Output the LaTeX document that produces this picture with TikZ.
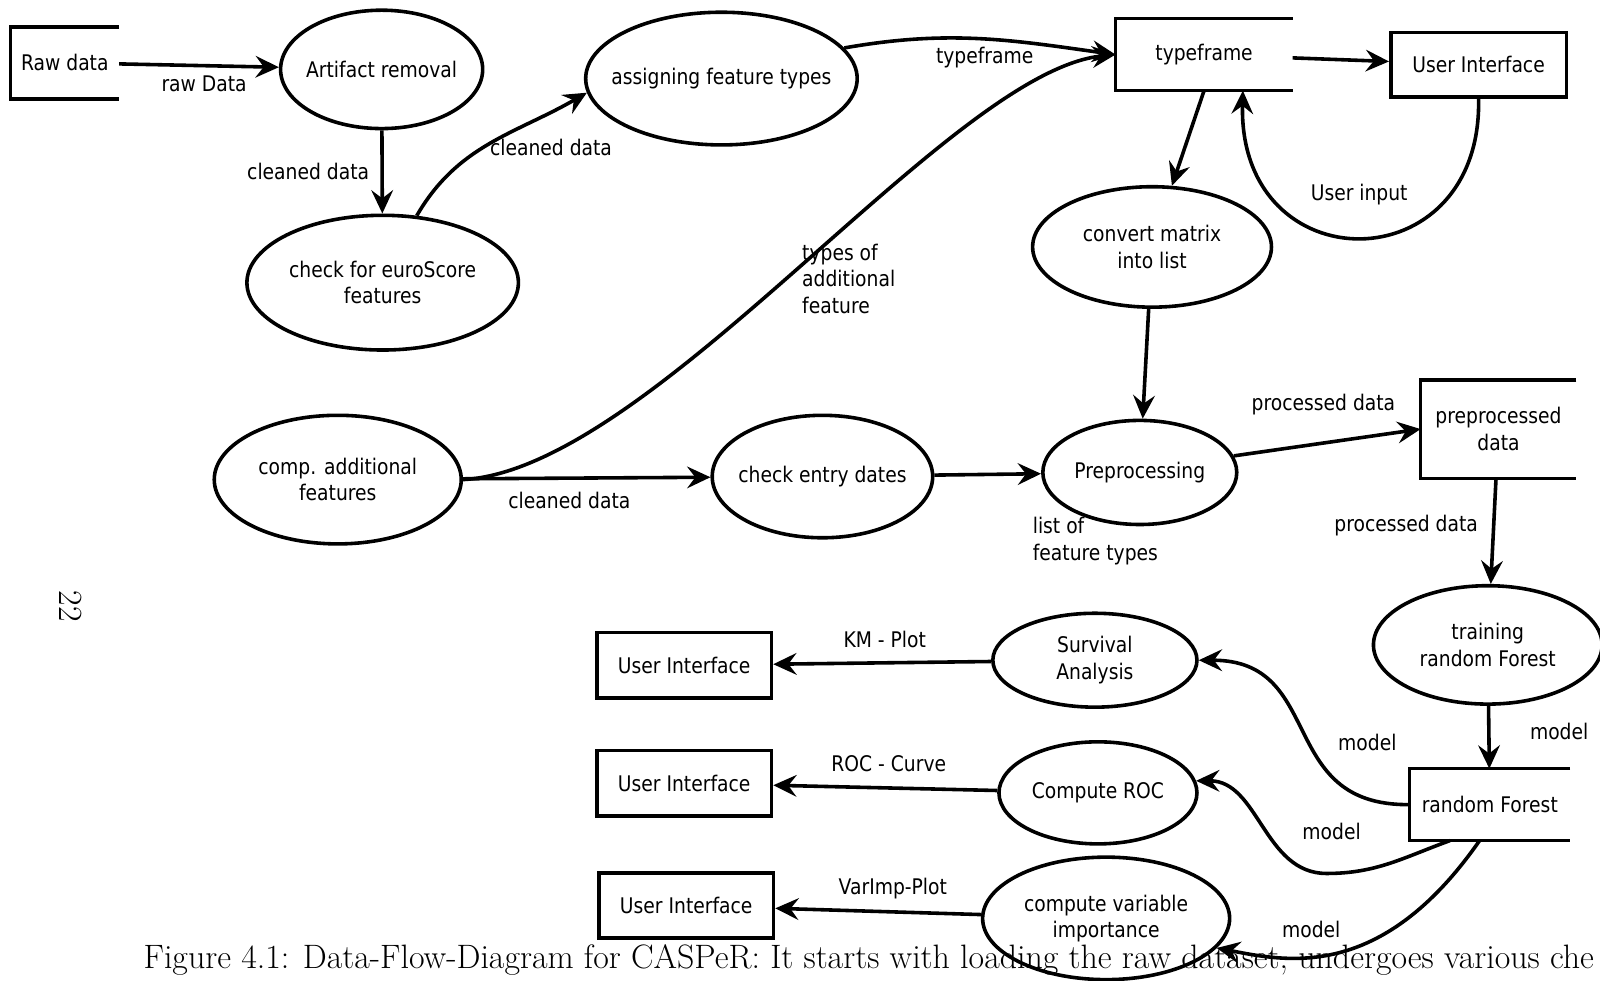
\documentclass[tikz,border=0pt]{standalone}
\usepackage{fontspec}
\newfontfamily\dfdfont[FakeStretch=0.87]{DejaVu Sans}
\usetikzlibrary{shapes.geometric, arrows.meta}

\begin{document}
\begin{tikzpicture}[
  x=0.025cm, y=0.025cm,
  line width=2.5pt,
  >={Stealth[length=5.7mm, width=5.3mm, inset=2mm]},
  base/.style={align=center, inner sep=0pt, font=\dfdfont\fontsize{15}{18.5}\selectfont},
  proc/.style={base, draw, ellipse, inner sep=-1cm},
  store/.style={base, rectangle},
  ext/.style={base, draw, rectangle, minimum width=4.275cm, minimum height=1.6cm},
  lbl/.style={base, inner sep=1pt},
  capt/.style={inner sep=0pt, font=\fontsize{23.6}{28}\selectfont},
]
  \useasboundingbox (0,0) rectangle (1568,-961);

  % processes and data stores
  \node[store, minimum width=2.575cm, minimum height=1.675cm] (raw) at (63.5,-61.5) {Raw data};
  \node[proc, minimum width=4.95cm, minimum height=2.9cm] (artif) at (374,-68) {Artifact removal};
  \node[proc, minimum width=6.65cm, minimum height=3.3cm] (euro) at (375,-277) {check for euroScore\\ features};
  \node[proc, minimum width=6.65cm, minimum height=3.25cm] (assign) at (707,-77) {assigning feature types};
  \node[store, minimum width=4.25cm, minimum height=1.675cm] (tframe) at (1180,-53.5) {typeframe};
  \node[ext, minimum width=4.3cm, minimum height=1.575cm] (uitop) at (1449,-63.5) {User Interface};
  \node[proc, minimum width=5.85cm, minimum height=2.95cm] (conv) at (1129,-242) {convert matrix\\ into list};
  \node[proc, minimum width=6.05cm, minimum height=3.15cm] (comp) at (331,-470) {comp. additional\\ features};
  \node[proc, minimum width=5.4cm, minimum height=3cm] (entry) at (806,-467) {check entry dates};
  \node[proc, minimum width=4.75cm, minimum height=2.55cm] (prep) at (1117,-463) {Preprocessing};
  \node[store, minimum width=3.725cm, minimum height=2.325cm] (ppdata) at (1468.5,-420.5) {preprocessed\\ data};
  \node[proc, minimum width=5.6cm, minimum height=2.9cm] (train) at (1458,-632) {training\\ random Forest};
  \node[store, minimum width=3.85cm, minimum height=1.675cm] (rf) at (1460,-788.5) {random Forest};
  \node[proc, minimum width=5cm, minimum height=2.3cm] (surv) at (1073,-647) {Survival\\ Analysis};
  \node[proc, minimum width=4.85cm, minimum height=2.5cm] (roc) at (1076,-777) {Compute ROC};
  \node[proc, minimum width=6.05cm, minimum height=3cm] (varimp) at (1084,-900) {compute variable\\ importance};
  \node[ext] (uikm) at (670.5,-652) {User Interface};
  \node[ext] (uiroc) at (670.5,-767.5) {User Interface};
  \node[ext] (uivar) at (672.5,-887.5) {User Interface};

  % flow labels
  \node[lbl] (lraw) at (200,-82) {raw Data};
  \node[lbl] (lclean1) at (302,-168) {cleaned data};
  \node[lbl] (lclean2) at (540,-145) {cleaned data};
  \node[lbl] (ltf) at (965,-56) {typeframe};
  \node[lbl, align=left, anchor=west] (ltypes) at (783,-273) {types of\\ additional\\ feature};
  \node[lbl] (lclean3) at (558,-490) {cleaned data};
  \node[lbl] (luser) at (1332,-191) {User input};
  \node[lbl] (lproc1) at (1297,-396) {processed data};
  \node[lbl] (lproc2) at (1378,-515) {processed data};
  \node[lbl, align=left, anchor=west] (llist) at (1009,-530) {list of\\ feature types};
  \node[lbl] (lmod1) at (1528,-717) {model};
  \node[lbl] (lmod2) at (1340,-728) {model};
  \node[lbl] (lmod3) at (1305,-815) {model};
  \node[lbl] (lmod4) at (1285,-911) {model};
  \node[lbl] (lkm) at (867,-627) {KM - Plot};
  \node[lbl] (lroc) at (871,-748) {ROC - Curve};
  \node[lbl] (lvar) at (875,-871) {VarImp-Plot};

  % open sides of the stores
  \draw (raw.north east) -- (raw.north west) -- (raw.south west) -- (raw.south east);
  \draw (tframe.north east) -- (tframe.north west) -- (tframe.south west) -- (tframe.south east);
  \draw (ppdata.north east) -- (ppdata.north west) -- (ppdata.south west) -- (ppdata.south east);
  \draw (rf.north east) -- (rf.north west) -- (rf.south west) -- (rf.south east);

  \draw[->] (raw) -- (artif);
  \draw[->] (artif) -- (euro);
  \draw[->] (euro.63) to[out=60, in=210] (assign.186);
  \draw[->] (assign.14) to[out=10, in=172] (tframe.west);
  \draw[->] (comp.east) .. controls (640,-460) and (930,-70) .. (tframe.west);
  \draw[->] (comp) -- (entry);
  \draw[->] (entry) -- (prep);
  \draw[->] (tframe.south) -- (conv.72);
  \draw[->] (conv) -- (prep);
  \draw[->] (tframe) -- (uitop);
  \draw[->] (uitop.south) .. controls (1453,-279) and (1213,-279) .. ([xshift=0.95cm]tframe.south);
  \draw[->] (prep.10) -- (ppdata.west);
  \draw[->] (ppdata) -- (train);
  \draw[->] (train) -- (rf);
  \draw[->] (rf.west) .. controls (1250,-790) and (1300,-647) .. (surv.east);
  \draw[->] ([xshift=-0.975cm]rf.south) to[out=200, in=0] (1300,-856) to[out=180, in=0] (roc.7);
  \draw[->] ([xshift=-0.25cm]rf.south) .. controls (1353,-963) and (1260,-942) .. (varimp.-15);
  \draw[->] (surv) -- (uikm);
  \draw[->] (roc) -- (uiroc);
  \draw[->] (varimp) -- (uivar);

  % page remains
  \node[capt, anchor=base west] (caption) at (139,-949) {Figure 4.1: Data-Flow-Diagram for CASPeR: It starts with loading the raw dataset, undergoes various che};
  \node[capt, rotate=-90] (pageno) at (69.5,-594) {22};
\end{tikzpicture}
\end{document}
